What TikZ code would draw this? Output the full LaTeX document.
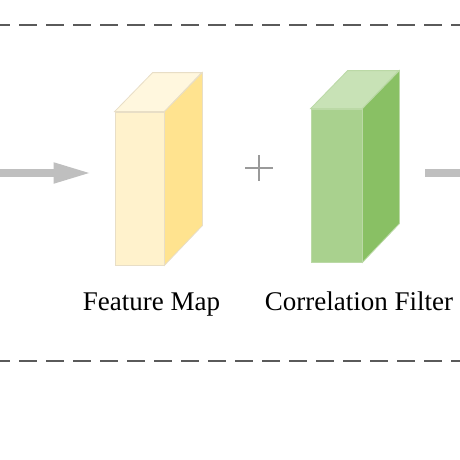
\documentclass[tikz,border=0pt]{standalone}
\usepackage{fontspec}
\setmainfont{Liberation Serif}
\usetikzlibrary{arrows.meta, calc, positioning}
\definecolor{fmfront}{HTML}{FFF2CC}
\definecolor{fmtop}{HTML}{FFF7DE}
\definecolor{fmside}{HTML}{FFE38F}
\definecolor{fmedge}{HTML}{E8DEC6}
\definecolor{cffront}{HTML}{A9D18E}
\definecolor{cftop}{HTML}{C8E2B6}
\definecolor{cfside}{HTML}{89C064}
\definecolor{cfedge}{HTML}{BBD9A6}
\definecolor{arrowgray}{HTML}{BFBFBF}
\definecolor{plusgray}{HTML}{9A9A9A}
\definecolor{dashgray}{HTML}{5A5A5A}
\tikzstyle{face} = [rectangle, line width=0.8pt, inner sep=0pt, minimum height=153pt]
\tikzstyle{arrow} = [line width=7.5pt, draw=arrowgray, -{Triangle[length=38pt,width=19pt]}]
\tikzstyle{plusline} = [line width=2.6pt, draw=plusgray]
\tikzstyle{divider} = [line width=1.3pt, draw=dashgray, dash pattern=on 18pt off 9pt, dash phase=3pt]
\tikzstyle{boxlabel} = [font=\fontsize{27}{32}\selectfont, anchor=base, inner sep=0pt]

\begin{document}
\begin{tikzpicture}[x=1pt, y=-1pt]
		\clip (0,0) rectangle (460,460);
		\fill[white] (0,0) rectangle (460,460);
		\node (FeatureMap) [face, minimum width=49pt, draw=fmedge, fill=fmfront] at (139.5,188.5) {};
		\filldraw [fill=fmtop, draw=fmedge, line width=0.8pt] (FeatureMap.north west) -- ++(38,-39) -- ++(49,0) -- (FeatureMap.north east) -- cycle;
		\filldraw [fill=fmside, draw=fmedge, line width=0.8pt] (FeatureMap.north east) -- ++(38,-39) -- ++(0,153) -- (FeatureMap.south east) -- cycle;
		\node (Filter) [face, minimum width=51pt, draw=cfedge, fill=cffront] at (336.5,185.5) {};
		\filldraw [fill=cftop, draw=cfedge, line width=0.8pt] (Filter.north west) -- ++(37,-38) -- ++(51,0) -- (Filter.north east) -- cycle;
		\filldraw [fill=cfside, draw=cfedge, line width=0.8pt] (Filter.north east) -- ++(37,-38) -- ++(0,153) -- (Filter.south east) -- cycle;
		\node (FeatureLabel) [boxlabel] at (151.5,310) {Feature Map};
		\node (FilterLabel) [boxlabel] at (359,310) {Correlation Filter};
		\coordinate (Input) at (-5,173);
		\coordinate (Output) at (515,173);
		\coordinate (Plus) at (259,168);
		\draw [arrow, shorten >=23pt] (Input) -- (Input -| FeatureMap.west);
		\draw [arrow, shorten <=63pt] (Output -| Filter.east) -- (Output);
		\draw [plusline] ($(Plus)+(-14,0)$) -- ($(Plus)+(14,0)$) ($(Plus)+(0,-13)$) -- ($(Plus)+(0,13)$);
		\coordinate (TopLeft) at (-5,25);
		\coordinate (BottomLeft) at (-5,361);
		\draw [divider] (TopLeft) -- +(475,0);
		\draw [divider] (BottomLeft) -- +(475,0);
		\end{tikzpicture}
\end{document}
